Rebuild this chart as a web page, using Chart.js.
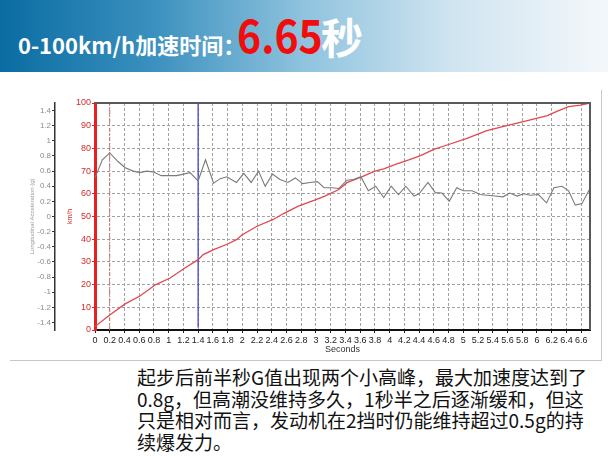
<!DOCTYPE html>
<html><head><meta charset="utf-8">
<script src="https://cdn.jsdelivr.net/npm/chart.js@4.4.0/dist/chart.umd.min.js"></script>
<style>
html,body{margin:0;padding:0;width:608px;height:456px;overflow:hidden;background:#fff;}
#banner{position:absolute;left:0;top:0;width:608px;height:72px;background:linear-gradient(to right,#0a6ca2 0%,#3a90be 25%,#8fc3de 50%,#cfe4f0 74%,#f4f8fb 100%);}
.tt{position:absolute;line-height:1;white-space:nowrap;font-family:"Noto Sans CJK SC",sans-serif;font-weight:bold;color:#fff;}
#t1{left:18px;top:33px;font-size:22px;}
#t2{left:237px;top:10px;font-size:46px;color:#f20d0d;transform:scaleX(0.89);transform-origin:left top;}
#t3{left:321px;top:15px;font-size:42px;}
#panel{position:absolute;left:10px;top:90px;width:591px;height:270px;border-right:1px solid #c8c8c8;border-bottom:1px solid #c8c8c8;}
#cv{position:absolute;left:10px;top:90px;}
#caption{position:absolute;left:137px;top:366px;font-family:"Noto Sans CJK SC",sans-serif;font-size:19px;line-height:21.5px;color:#111;white-space:nowrap;}
</style></head>
<body>
<div id="banner"></div>
<span class="tt" id="t1">0-100km/h加速时间：</span><span class="tt" id="t2">6.65</span><span class="tt" id="t3">秒</span>
<div id="panel"></div>
<canvas id="cv" width="591" height="270"></canvas>
<div id="caption">起步后前半秒G值出现两个小高峰，最大加速度达到了<br>0.8g，但高潮没维持多久，1秒半之后逐渐缓和，但这<br>只是相对而言，发动机在2挡时仍能维持超过0.5g的持<br>续爆发力。</div>
<script>
// Longitudinal acceleration (g) vs time (s)
const accTime = [0,0.10,0.20,0.32,0.41,0.52,0.61,0.70,0.79,0.90,1.11,1.29,1.40,1.50,1.61,1.70,1.79,1.92,2.02,2.12,2.22,2.31,2.41,2.51,2.62,2.72,2.82,2.92,3.02,3.11,3.22,3.31,3.42,3.51,3.61,3.71,3.81,3.92,4.02,4.12,4.22,4.33,4.40,4.52,4.62,4.71,4.81,4.91,5.00,5.12,5.23,5.32,5.43,5.54,5.63,5.73,5.82,5.91,6.02,6.13,6.23,6.34,6.43,6.52,6.61,6.72];
const accG = [0.51,0.75,0.84,0.72,0.645,0.60,0.58,0.60,0.59,0.54,0.54,0.58,0.47,0.75,0.44,0.50,0.525,0.45,0.57,0.45,0.60,0.40,0.56,0.49,0.45,0.51,0.435,0.45,0.46,0.38,0.38,0.37,0.48,0.49,0.525,0.34,0.40,0.25,0.40,0.29,0.40,0.27,0.30,0.45,0.315,0.31,0.20,0.38,0.34,0.34,0.29,0.28,0.27,0.26,0.31,0.27,0.30,0.28,0.29,0.18,0.38,0.40,0.34,0.15,0.17,0.37];
// Speed (km/h) vs time (s)
const speedTime = [0,0.2,0.41,0.61,0.82,1.02,1.22,1.40,1.47,1.61,1.81,1.92,2.0,2.2,2.42,2.56,2.76,2.99,3.12,3.31,3.42,3.62,3.80,3.92,4.08,4.26,4.42,4.60,4.78,5.05,5.32,5.59,5.87,6.14,6.27,6.43,6.59,6.72];
const speedKmh = [1.5,6.6,11.5,15,19.9,22.9,27.3,31,33.2,35.4,38,39.8,42,45.7,48.7,51.3,54.6,57.3,59,61.9,64.9,67.5,70,71,73,74.9,76.8,79.6,81.5,84.4,87.8,90,92.2,94.4,96.3,98.4,99.1,100];
// cursor and marker lines
const cursorTime = 1.4, cursorSpeeds = [1, 100];
const markerTime = 0.2, markerSpeeds = [0, 100];
// tick labels
const timeTicks = [0,0.2,0.4,0.6,0.8,1,1.2,1.4,1.6,1.8,2,2.2,2.4,2.6,2.8,3,3.2,3.4,3.6,3.8,4,4.2,4.4,4.6,4.8,5,5.2,5.4,5.6,5.8,6,6.2,6.4,6.6];
const speedTicks = [0,5,10,15,20,25,30,35,40,45,50,55,60,65,70,75,80,85,90,95,100];
const accTicks = [-1.4,-1.2,-1,-0.8,-0.6,-0.4,-0.2,0,0.2,0.4,0.6,0.8,1,1.2,1.4];

const FONT = "'Liberation Sans', Arial, sans-serif";
const setTicks = arr => axis => { axis.ticks = arr.map(v => ({value: v})); };
const fmt = v => String(+Number(v).toFixed(1));

const frame = {
  id: 'frame',
  afterDatasetsDraw(chart) {
    const {ctx, chartArea: a} = chart;
    ctx.save();
    ctx.strokeStyle = '#5a5a5a';
    ctx.lineWidth = 2;
    ctx.beginPath();
    ctx.moveTo(a.left, a.top);
    ctx.lineTo(a.right, a.top);
    ctx.lineTo(a.right, a.bottom);
    ctx.stroke();
    ctx.restore();
  }
};

new Chart(document.getElementById('cv'), {
  type: 'scatter',
  data: {
    datasets: [
      {data: [{x: markerTime, y: markerSpeeds[0]}, {x: markerTime, y: markerSpeeds[1]}], yAxisID: 'ySpeed', showLine: true, pointRadius: 0, borderColor: '#d86a6a', borderWidth: 1, borderDash: [4, 2, 1, 2]},
      {data: accTime.map((t, i) => ({x: t, y: accG[i]})), yAxisID: 'yAcc', showLine: true, pointRadius: 0, borderColor: '#7a7a7a', borderWidth: 1.1, tension: 0},
      {data: speedTime.map((t, i) => ({x: t, y: speedKmh[i]})), yAxisID: 'ySpeed', showLine: true, pointRadius: 0, borderColor: '#e0474f', borderWidth: 1.3, tension: 0},
      {data: [{x: cursorTime, y: cursorSpeeds[0]}, {x: cursorTime, y: cursorSpeeds[1]}], yAxisID: 'ySpeed', showLine: true, pointRadius: 0, borderColor: '#3a3ac8', borderWidth: 1.2}
    ]
  },
  options: {
    responsive: false,
    animation: false,
    devicePixelRatio: 1,
    layout: {padding: {left: 10, top: 13, right: 11, bottom: 0}},
    plugins: {legend: {display: false}, tooltip: {enabled: false}},
    scales: {
      x: {
        type: 'linear', position: 'bottom', min: 0, max: 6.72,
        afterBuildTicks: setTicks(timeTicks),
        afterFit: s => { s.height = 30; },
        ticks: {color: '#222', font: {family: FONT, size: 9}, padding: 2, autoSkip: false, maxRotation: 0, callback: fmt},
        grid: {color: '#a2a2a2', lineWidth: 1, tickColor: '#222', tickLength: 3},
        border: {color: '#111', width: 2, dash: [3, 2]},
        title: {display: true, text: 'Seconds', color: '#333', font: {family: FONT, size: 9}, padding: {top: 0, bottom: 5}}
      },
      ySpeed: {
        type: 'linear', position: 'left', weight: 1, min: 0, max: 100,
        afterBuildTicks: setTicks(speedTicks),
        afterFit: s => { s.width = 40; },
        ticks: {color: '#d42a2a', font: {family: FONT, size: 9}, padding: 1},
        grid: {color: '#a2a2a2', lineWidth: 1, tickColor: '#e02020', tickLength: 3},
        border: {color: '#e82020', width: 3, dash: [3, 2]},
        title: {display: true, text: 'km/h', color: '#d42a2a', font: {family: FONT, size: 7}, padding: {top: 11, bottom: 0}}
      },
      yAcc: {
        type: 'linear', position: 'left', weight: 2, min: -1.5, max: 1.5,
        afterBuildTicks: setTicks(accTicks),
        afterFit: s => { s.width = 35; },
        ticks: {color: '#8a8a8a', font: {family: FONT, size: 8}, padding: 1, callback: fmt},
        grid: {drawOnChartArea: false, tickColor: '#333', tickLength: 3},
        border: {color: '#333', width: 1.5},
        title: {display: true, text: 'Longitudinal Acceleration (g)', color: '#9a9a9a', font: {family: FONT, size: 6}, padding: {top: 9, bottom: 0}}
      }
    }
  },
  plugins: [frame]
});
</script>
</body></html>
